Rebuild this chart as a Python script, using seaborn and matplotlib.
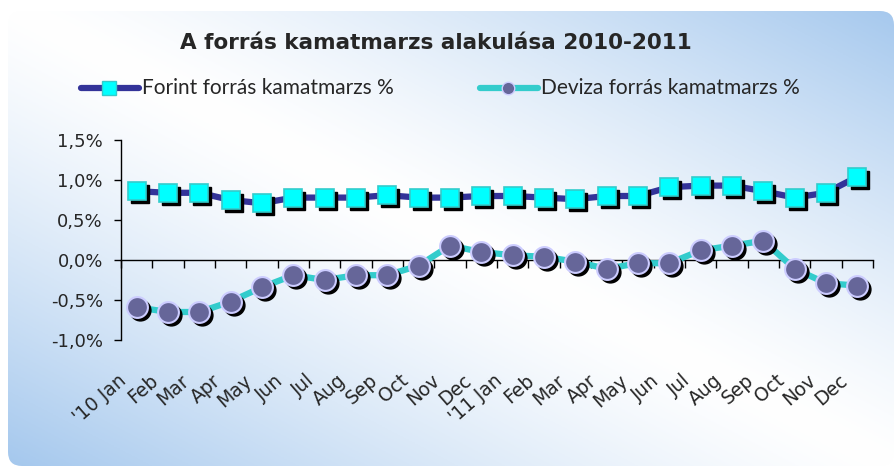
import numpy as np
import pandas as pd
import matplotlib
matplotlib.use("Agg")
import matplotlib.pyplot as plt
import matplotlib.transforms as mtransforms
from matplotlib.patches import FancyBboxPatch
import seaborn as sns

# chart data
months = ["'10 Jan", "Feb", "Mar", "Apr", "May", "Jun", "Jul", "Aug", "Sep", "Oct", "Nov", "Dec",
          "'11 Jan", "Feb", "Mar", "Apr", "May", "Jun", "Jul", "Aug", "Sep", "Oct", "Nov", "Dec"]
forint = [0.86, 0.84, 0.84, 0.75, 0.71, 0.78, 0.78, 0.78, 0.81, 0.78, 0.78, 0.80,
          0.80, 0.78, 0.76, 0.80, 0.80, 0.91, 0.93, 0.93, 0.86, 0.78, 0.84, 1.04]
deviza = [-0.59, -0.65, -0.65, -0.52, -0.34, -0.19, -0.25, -0.19, -0.19, -0.07, 0.18, 0.10,
          0.06, 0.04, -0.02, -0.11, -0.04, -0.04, 0.12, 0.18, 0.24, -0.11, -0.29, -0.32]
y_ticks = [-1.0, -0.5, 0.0, 0.5, 1.0, 1.5]
title = "A forrás kamatmarzs alakulása 2010-2011"
name_forint = "Forint forrás kamatmarzs %"
name_deviza = "Deviza forrás kamatmarzs %"

sns.set_style("white")
plt.rcParams["font.family"] = ["Lato", "DejaVu Sans"]

df = pd.DataFrame({"idx": np.arange(len(months)), "forint": forint, "deviza": deviza})

W, H = 896, 468
fig = plt.figure(figsize=(W / 100, H / 100), dpi=100)
fig.patch.set_facecolor("white")

# gradient background in a rounded box
bg = fig.add_axes([0, 0, 1, 1], zorder=-5)
bg.set_xlim(0, W)
bg.set_ylim(0, H)
bg.axis("off")
gx, gy = np.meshgrid(np.linspace(0, 1, 300), np.linspace(0, 1, 160))
t = np.abs(gx + gy - 1.0) ** 1.3
blue = np.array([0.64, 0.78, 0.93])
img = (1 - t)[..., None] * np.ones(3) + t[..., None] * blue
im = bg.imshow(img, extent=[0, W, 0, H], origin="lower", aspect="auto")
box = FancyBboxPatch((8, 2), W - 10, H - 13, boxstyle="round,pad=0,rounding_size=14",
                     facecolor="none", edgecolor="none", transform=bg.transData)
bg.add_patch(box)
im.set_clip_path(box)

ax = fig.add_axes([121 / W, 1 - 340 / H, (873 - 121) / W, 200 / H])
ax.patch.set_alpha(0)

shadow = mtransforms.offset_copy(ax.transData, fig=fig, x=3, y=-3, units="dots")

sns.lineplot(data=df, x="idx", y="forint", ax=ax, color="#333399", linewidth=4.5, zorder=3)
ax.plot(df["idx"], df["forint"], ls="none", marker="s", ms=13, color="black",
        transform=shadow, zorder=4)
ax.plot(df["idx"], df["forint"], ls="none", marker="s", ms=13, mfc="#00ffff",
        mec="#33cccc", mew=1.2, zorder=5)

sns.lineplot(data=df, x="idx", y="deviza", ax=ax, color="#33cccc", linewidth=4.5, zorder=3)
ax.plot(df["idx"], df["deviza"], ls="none", marker="o", ms=15, color="black",
        transform=shadow, zorder=4)
ax.plot(df["idx"], df["deviza"], ls="none", marker="o", ms=15, mfc="#666699",
        mec="#ccccff", mew=1.5, zorder=5)

ax.set_xlim(-0.5, len(months) - 0.5)
ax.set_ylim(-1.0, 1.5)
ax.set_xlabel("")
ax.set_ylabel("")
for s in ["top", "right"]:
    ax.spines[s].set_visible(False)
ax.spines["bottom"].set_position(("data", 0))
ax.spines["left"].set_color("black")
ax.spines["bottom"].set_color("black")
ax.spines["left"].set_linewidth(1)
ax.spines["bottom"].set_linewidth(1)

ax.set_xticks(np.arange(len(months) + 1) - 0.5)
ax.set_xticklabels([])
ax.tick_params(axis="x", direction="out", length=6, width=1, color="black", bottom=True)
ax.set_yticks(y_ticks)
ax.set_yticklabels([f"{v:.1f}%".replace(".", ",") for v in y_ticks], fontsize=13,
                   family="DejaVu Sans")
ax.tick_params(axis="y", direction="out", length=5, width=1, color="black", left=True, pad=8)

lab_tr = mtransforms.blended_transform_factory(ax.transData, ax.transAxes)
for i, m in enumerate(months):
    ax.text(i - 0.6, -0.155, m, transform=lab_tr, rotation=41, ha="right", va="top",
            rotation_mode="anchor", fontsize=13.5, family="DejaVu Sans")

fig.text(436 / W, 1 - 43 / H, title, ha="center", va="center", fontsize=15.5,
         fontweight="bold", family="DejaVu Sans")

# legend row
lg = fig.add_axes([0, 0, 1, 1], zorder=2)
lg.set_xlim(0, W)
lg.set_ylim(H, 0)
lg.axis("off")
for x0, name, lc, mk, mfc, mec, ms in [(81, name_forint, "#333399", "s", "#00ffff", "#33cccc", 10),
                                        (480, name_deviza, "#33cccc", "o", "#666699", "#ccccff", 9)]:
    lg.plot([x0, x0 + 58], [88, 88], color=lc, linewidth=4.5, solid_capstyle="round")
    lg.plot([x0 + 28], [88], marker=mk, ms=ms, mfc=mfc, mec=mec, mew=1)
    lg.text(x0 + 61, 88, name, ha="left", va="center", fontsize=15)

fig.savefig("out.png", dpi=100)
